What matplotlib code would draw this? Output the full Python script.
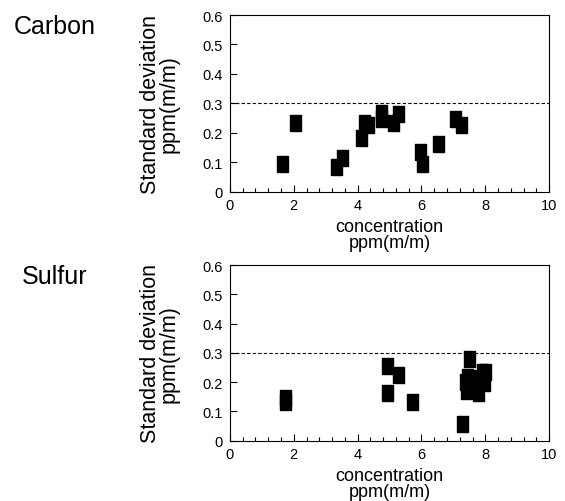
import numpy as np
import matplotlib.pyplot as plt
from matplotlib.ticker import MultipleLocator

plt.rcParams['font.family'] = ['Liberation Sans', 'DejaVu Sans']

# Carbon data
carbon_x = [1.63, 2.04, 3.32, 3.51, 4.10, 4.20, 4.33, 4.73, 4.73, 5.11, 5.27, 5.96, 6.02, 6.52, 7.05, 7.24]
carbon_y = [0.095, 0.234, 0.085, 0.115, 0.183, 0.234, 0.227, 0.268, 0.247, 0.234, 0.264, 0.136, 0.092, 0.163, 0.247, 0.227]

# Sulfur data
sulfur_x = [1.73, 1.73, 4.92, 5.26, 4.93, 5.70, 7.27, 7.50, 7.43, 7.36, 7.38, 7.90, 8.00, 7.77, 7.97, 7.77]
sulfur_y = [0.133, 0.145, 0.256, 0.224, 0.162, 0.130, 0.057, 0.280, 0.218, 0.200, 0.169, 0.235, 0.235, 0.214, 0.197, 0.162]

limit = 0.3
yticks = [0, 0.1, 0.2, 0.3, 0.4, 0.5, 0.6]
ytick_labels = ['0', '0.1', '0.2', '0.3', '0.4', '0.5', '0.6']
xticks = [0, 2, 4, 6, 8, 10]

rect = [(-0.36, -0.5), (0.36, -0.5), (0.36, 0.5), (-0.36, 0.5), (-0.36, -0.5)]

fig = plt.figure(figsize=(5.65, 5.02), dpi=100)
ax1 = fig.add_axes([0.407, 0.6165, 0.565, 0.3515])
ax2 = fig.add_axes([0.407, 0.1205, 0.565, 0.3495])

for ax, xs, ys, name, ny in [(ax1, carbon_x, carbon_y, 'Carbon', 0.946),
                             (ax2, sulfur_x, sulfur_y, 'Sulfur', 0.448)]:
    ax.plot(xs, ys, linestyle='none', marker=rect, ms=11, color='black', mec='black')
    ax.axhline(limit, color='black', lw=0.8, linestyle=(0, (3, 2)))
    ax.set_xlim(0, 10)
    ax.set_ylim(0, 0.6)
    ax.set_xticks(xticks)
    ax.set_yticks(yticks)
    ax.set_yticklabels(ytick_labels)
    ax.xaxis.set_minor_locator(MultipleLocator(0.4))
    ax.tick_params(which='both', direction='in', labelsize=10.5)
    ax.tick_params(axis='y', pad=5)
    ax.tick_params(axis='x', pad=5)
    ax.tick_params(which='major', length=5, width=0.8)
    ax.tick_params(which='minor', length=3, width=0.8)
    for s in ax.spines.values():
        s.set_linewidth(0.8)
    ax.set_xlabel('concentration\nppm(m/m)', fontsize=13, labelpad=4, linespacing=0.9)
    ax.set_ylabel('Standard deviation\nppm(m/m)', fontsize=15.5, linespacing=0.88)
    ax.yaxis.set_label_coords(-0.157, 0.5)
    fig.text(0.097, ny, name, fontsize=18, ha='center', va='center')

fig.savefig('out.png', dpi=100)
